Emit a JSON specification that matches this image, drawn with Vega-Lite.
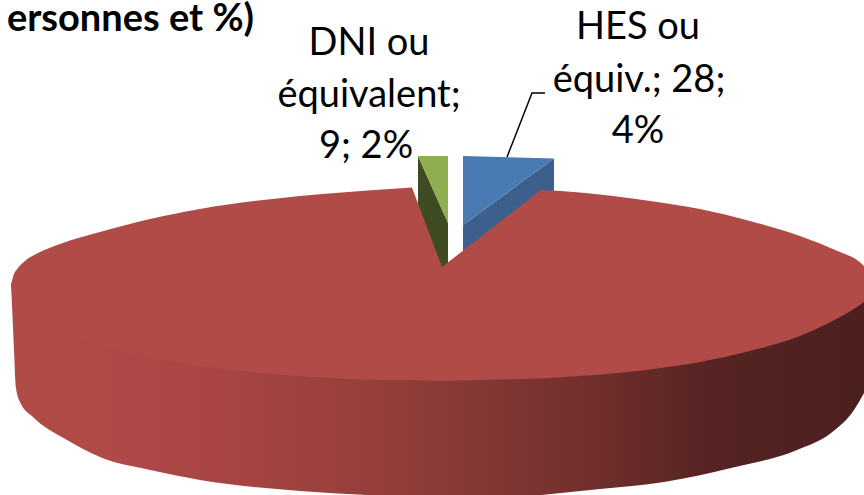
{"$schema":"https://vega.github.io/schema/vega-lite/v6.json","width":864,"height":495,"autosize":{"type":"fit","contains":"padding"},"padding":0,"background":"white","config":{"view":{"stroke":null}},
"datasets":{
"shapes":[
{"part":"side","x":11,"y":283,"y2":285},{"part":"side","x":12,"y":283,"y2":305},{"part":"side","x":14,"y":284,"y2":350},{"part":"side","x":16,"y":288,"y2":388},{"part":"side","x":20,"y":296,"y2":402},{"part":"side","x":33,"y":310,"y2":417},{"part":"side","x":67,"y":328,"y2":440},{"part":"side","x":100,"y":342,"y2":457},{"part":"side","x":150,"y":354,"y2":470},{"part":"side","x":200,"y":363,"y2":480},{"part":"side","x":300,"y":374,"y2":491},{"part":"side","x":400,"y":378,"y2":496},{"part":"side","x":500,"y":378,"y2":497},{"part":"side","x":600,"y":371,"y2":489},{"part":"side","x":664,"y":366,"y2":482},{"part":"side","x":731,"y":352,"y2":468},{"part":"side","x":797,"y":334,"y2":450},{"part":"side","x":831,"y":319,"y2":433},{"part":"side","x":854,"y":305,"y2":410},{"part":"side","x":864,"y":298,"y2":393},
{"part":"topL","x":11,"y":285,"y2":285},{"part":"topL","x":13,"y":277,"y2":293},{"part":"topL","x":18,"y":268,"y2":303},{"part":"topL","x":25,"y":261,"y2":311},{"part":"topL","x":40,"y":252,"y2":323},{"part":"topL","x":60,"y":244,"y2":333},{"part":"topL","x":100,"y":232,"y2":346},{"part":"topL","x":150,"y":219,"y2":357},{"part":"topL","x":200,"y":209,"y2":366},{"part":"topL","x":300,"y":196,"y2":376},{"part":"topL","x":390,"y":189,"y2":380},{"part":"topL","x":412,"y":187.5,"y2":380},
{"part":"notch","x":412,"y":187.5,"y2":380},{"part":"notch","x":442,"y":267,"y2":381},{"part":"notch","x":541,"y":190,"y2":378.5},
{"part":"topR","x":541,"y":190,"y2":378.5},{"part":"topR","x":580,"y":192.5,"y2":376},{"part":"topR","x":650,"y":201,"y2":369.5},{"part":"topR","x":700,"y":209,"y2":362},{"part":"topR","x":750,"y":221,"y2":351},{"part":"topR","x":800,"y":236,"y2":336},{"part":"topR","x":840,"y":252,"y2":317},{"part":"topR","x":857,"y":260,"y2":307},{"part":"topR","x":864,"y":266,"y2":302},
{"part":"greenDark","x":418,"y":156,"y2":280},{"part":"greenDark","x":448,"y":223,"y2":280},
{"part":"greenLight","x":418,"y":156,"y2":156},{"part":"greenLight","x":448,"y":156,"y2":223},
{"part":"blueDark","x":463,"y":225,"y2":270},{"part":"blueDark","x":554,"y":158.5,"y2":200},
{"part":"blueLight","x":463,"y":156,"y2":225},{"part":"blueLight","x":554,"y":158.5,"y2":158.5}
],
"labels":[
{"t":"DNI ou","x":369,"y":55},{"t":"équivalent;","x":369,"y":107},{"t":"9; 2%","x":366,"y":158},
{"t":"HES ou","x":638,"y":39},{"t":"équiv.; 28;","x":639,"y":92},{"t":"4%","x":638,"y":143}
],
"leader":[{"x":507,"y":157,"o":1},{"x":532,"y":93,"o":2},{"x":545,"y":93,"o":3}],
"title":[{"t":"ersonnes et %)","x":254,"y":31}]
},
"encoding":{},
"layer":[
{"data":{"name":"shapes"},"transform":[{"filter":"datum.part==='greenDark'"}],"mark":{"type":"area","color":"#3f4c22","clip":true},"encoding":{"x":{"field":"x","type":"quantitative","scale":{"domain":[0,864],"nice":false},"axis":null},"y":{"field":"y","type":"quantitative","scale":{"domain":[495,0],"nice":false},"axis":null},"y2":{"field":"y2"}}},
{"data":{"name":"shapes"},"transform":[{"filter":"datum.part==='greenLight'"}],"mark":{"type":"area","color":"#8fae50","clip":true},"encoding":{"x":{"field":"x","type":"quantitative","scale":{"domain":[0,864],"nice":false},"axis":null},"y":{"field":"y","type":"quantitative","scale":{"domain":[495,0],"nice":false},"axis":null},"y2":{"field":"y2"}}},
{"data":{"name":"shapes"},"transform":[{"filter":"datum.part==='blueDark'"}],"mark":{"type":"area","color":"#3c5f8c","clip":true},"encoding":{"x":{"field":"x","type":"quantitative","scale":{"domain":[0,864],"nice":false},"axis":null},"y":{"field":"y","type":"quantitative","scale":{"domain":[495,0],"nice":false},"axis":null},"y2":{"field":"y2"}}},
{"data":{"name":"shapes"},"transform":[{"filter":"datum.part==='blueLight'"}],"mark":{"type":"area","color":"#4a7ab4","clip":true},"encoding":{"x":{"field":"x","type":"quantitative","scale":{"domain":[0,864],"nice":false},"axis":null},"y":{"field":"y","type":"quantitative","scale":{"domain":[495,0],"nice":false},"axis":null},"y2":{"field":"y2"}}},
{"data":{"name":"shapes"},"transform":[{"filter":"datum.part==='side'"}],"mark":{"type":"area","interpolate":"monotone","clip":true,"color":{"gradient":"linear","x1":0,"y1":0,"x2":1,"y2":0,"stops":[{"offset":0,"color":"#b04b48"},{"offset":0.1,"color":"#af4a47"},{"offset":0.25,"color":"#a84543"},{"offset":0.45,"color":"#933e3b"},{"offset":0.69,"color":"#702e2c"},{"offset":0.82,"color":"#552423"},{"offset":1,"color":"#4c1f1e"}]}},"encoding":{"x":{"field":"x","type":"quantitative","scale":{"domain":[0,864],"nice":false},"axis":null},"y":{"field":"y","type":"quantitative","scale":{"domain":[495,0],"nice":false},"axis":null},"y2":{"field":"y2"}}},
{"data":{"name":"shapes"},"transform":[{"filter":"datum.part==='topL'"}],"mark":{"type":"area","interpolate":"monotone","color":"#b04b48","clip":true},"encoding":{"x":{"field":"x","type":"quantitative","scale":{"domain":[0,864],"nice":false},"axis":null},"y":{"field":"y","type":"quantitative","scale":{"domain":[495,0],"nice":false},"axis":null},"y2":{"field":"y2"}}},
{"data":{"name":"shapes"},"transform":[{"filter":"datum.part==='notch'"}],"mark":{"type":"area","color":"#b04b48","clip":true},"encoding":{"x":{"field":"x","type":"quantitative","scale":{"domain":[0,864],"nice":false},"axis":null},"y":{"field":"y","type":"quantitative","scale":{"domain":[495,0],"nice":false},"axis":null},"y2":{"field":"y2"}}},
{"data":{"name":"shapes"},"transform":[{"filter":"datum.part==='topR'"}],"mark":{"type":"area","interpolate":"monotone","color":"#b04b48","clip":true},"encoding":{"x":{"field":"x","type":"quantitative","scale":{"domain":[0,864],"nice":false},"axis":null},"y":{"field":"y","type":"quantitative","scale":{"domain":[495,0],"nice":false},"axis":null},"y2":{"field":"y2"}}},
{"data":{"name":"leader"},"mark":{"type":"line","color":"black","strokeWidth":1.5,"clip":true},"encoding":{"x":{"field":"x","type":"quantitative","scale":{"domain":[0,864],"nice":false},"axis":null},"y":{"field":"y","type":"quantitative","scale":{"domain":[495,0],"nice":false},"axis":null},"order":{"field":"o"}}},
{"data":{"name":"labels"},"mark":{"type":"text","font":"Lato","fontSize":38,"align":"center","baseline":"alphabetic","color":"black"},"encoding":{"text":{"field":"t"},"x":{"field":"x","type":"quantitative","scale":{"domain":[0,864],"nice":false},"axis":null},"y":{"field":"y","type":"quantitative","scale":{"domain":[495,0],"nice":false},"axis":null}}},
{"data":{"name":"title"},"mark":{"type":"text","font":"Lato","fontSize":38,"fontWeight":"bold","align":"right","baseline":"alphabetic","color":"black"},"encoding":{"text":{"field":"t"},"x":{"field":"x","type":"quantitative","scale":{"domain":[0,864],"nice":false},"axis":null},"y":{"field":"y","type":"quantitative","scale":{"domain":[495,0],"nice":false},"axis":null}}}
]}
